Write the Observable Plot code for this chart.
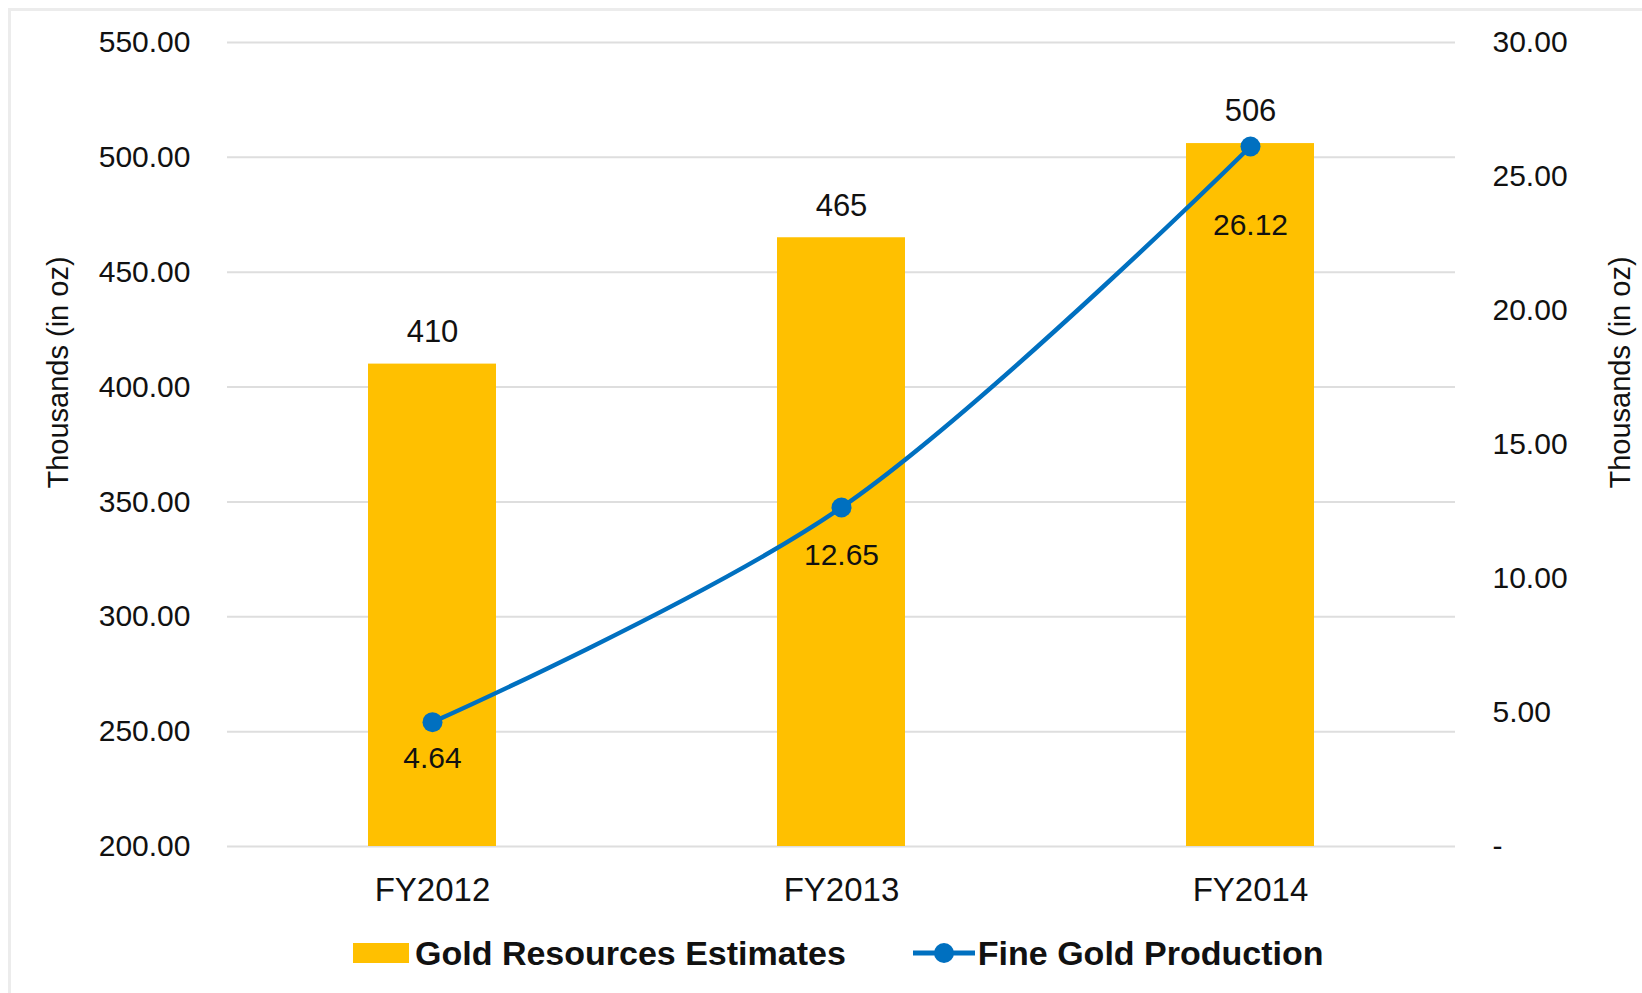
<!DOCTYPE html>
<html>
<head>
<meta charset="utf-8">
<script src="https://cdn.jsdelivr.net/npm/d3@7"></script>
<script src="https://cdn.jsdelivr.net/npm/@observablehq/plot@0.6"></script>
<style>
  html, body { margin: 0; padding: 0; background: #fff; }
  body { width: 1642px; height: 993px; overflow: hidden; position: relative; font-family: "Liberation Sans", Arial, Helvetica, sans-serif; }
  #frame { position: absolute; left: 8px; top: 8px; width: 1700px; height: 1100px; border-left: 3px solid #ececec; border-top: 3px solid #ececec; }
  #chart { position: absolute; left: 0; top: 0; }
  #legend { position: absolute; left: 0; top: 920px; width: 1642px; height: 66px; display: flex; align-items: center; padding-left: 353px; box-sizing: border-box; font-weight: bold; font-size: 34px; color: #111; }
  .sw { width: 56px; height: 20px; background: #FFC000; margin-right: 6px; }
  .item2 { margin-left: 67px; display: flex; align-items: center; }
</style>
</head>
<body>
<div id="frame"></div>
<div id="chart"></div>
<div id="legend"></div>
<script>
// ---- data ----
const years = ["FY2012", "FY2013", "FY2014"];
const resources = [410, 465, 506];          // Gold Resources Estimates (left axis)
const production = [4.64, 12.65, 26.12];    // Fine Gold Production (right axis)
const productionLabels = ["4.64", "12.65", "26.12"];
const leftTicks = [200, 250, 300, 350, 400, 450, 500, 550];
const rightTicks = [0, 5, 10, 15, 20, 25, 30];
const rightTickLabels = ["-", "5.00", "10.00", "15.00", "20.00", "25.00", "30.00"];
const seriesNames = ["Gold Resources Estimates", "Fine Gold Production"];
const axisTitle = "Thousands (in oz)";

// ---- styles ----
const gold = "#FFC000";
const blue = "#0070C0";
const ink = "#111111";
const lineLabelDy = [36, 48, 79];

const leftMin = 200, leftMax = 550, rightMin = 0, rightMax = 30;
const toLeft = v => leftMin + (v - rightMin) * (leftMax - leftMin) / (rightMax - rightMin);
const fromLeft = d => rightMin + (d - leftMin) * (rightMax - rightMin) / (leftMax - leftMin);

const data = years.map((year, i) => ({year, res: resources[i], prod: production[i], prodLabel: productionLabels[i], i}));

const chart = Plot.plot({
  width: 1642,
  height: 920,
  marginLeft: 227,
  marginRight: 187,
  marginTop: 42,
  marginBottom: 74,
  style: {fontFamily: "'Liberation Sans', Arial, Helvetica, sans-serif", fontSize: "30px", color: ink, background: "transparent"},
  x: {domain: years, paddingInner: 0.687, paddingOuter: 0.3435, label: null},
  y: {domain: [leftMin, leftMax], label: null},
  marks: [
    Plot.gridY(leftTicks, {stroke: "#dedede", strokeOpacity: 1, strokeWidth: 2}),
    Plot.barY(data, {x: "year", y1: leftMin, y2: "res", fill: gold}),
    Plot.axisY(leftTicks, {anchor: "left", tickSize: 0, tickPadding: 37, tickFormat: d => d.toFixed(2), fontSize: 30, fill: ink, label: null}),
    Plot.axisY(rightTicks.map(toLeft), {anchor: "right", tickSize: 0, tickPadding: 37, textAnchor: "start", fontSize: 30, fill: ink, label: null,
      tickFormat: d => rightTickLabels[rightTicks.indexOf(Math.round(fromLeft(d)))]}),
    Plot.axisX({tickSize: 0, tickPadding: 31, fontSize: 33, fill: ink, label: null}),
    Plot.line(data, {x: "year", y: d => toLeft(d.prod), stroke: blue, strokeWidth: 4.5, curve: "catmull-rom"}),
    Plot.dot(data, {x: "year", y: d => toLeft(d.prod), r: 10, fill: blue}),
    Plot.text(data, {x: "year", y: "res", text: d => String(d.res), dy: -32, fontSize: 31, fill: ink}),
    ...data.map((d, k) => Plot.text(data.filter(e => e.i === k), {x: "year", y: e => toLeft(e.prod), text: "prodLabel", dy: lineLabelDy[k], fontSize: 30, fill: ink})),
    Plot.text([axisTitle], {frameAnchor: "left", textAnchor: "middle", dx: -169, dy: -72, rotate: -90, fontSize: 29, fill: ink}),
    Plot.text([axisTitle], {frameAnchor: "right", textAnchor: "middle", dx: 165, dy: -72, rotate: -90, fontSize: 29, fill: ink})
  ]
});
document.getElementById("chart").appendChild(chart);

// ---- legend ----
const legend = document.getElementById("legend");
legend.innerHTML = `
  <div class="sw"></div><span>${seriesNames[0]}</span>
  <div class="item2">
    <svg width="62" height="24" style="margin-right:3px"><line x1="0" x2="62" y1="12" y2="12" stroke="${blue}" stroke-width="5"/><circle cx="31" cy="12" r="10" fill="${blue}"/></svg>
    <span>${seriesNames[1]}</span>
  </div>`;
</script>
</body>
</html>
